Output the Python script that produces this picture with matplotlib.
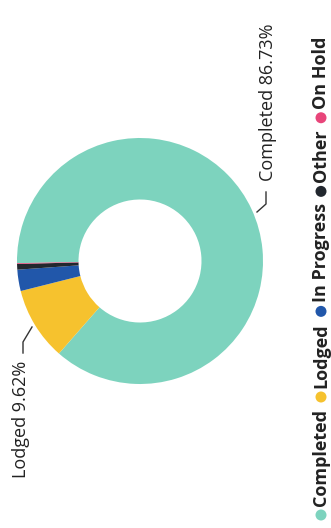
"""Donut chart of job status, drawn rotated like the source screenshot."""

import matplotlib
matplotlib.use("Agg")
import matplotlib.pyplot as plt
from matplotlib.lines import Line2D
from matplotlib.patches import Ellipse

W, H = 331, 528
DPI = 100

statuses = ["Completed", "Lodged", "In Progress", "Other", "On Hold"]
shares = [86.73, 9.62, 2.80, 0.75, 0.10]
colors = ["#7DD3BE", "#F6C22E", "#2157AA", "#22272E", "#E8457A"]

INK = "#222222"
FONT = ["Open Sans", "DejaVu Sans"]


def px(x, y_top):
    """pixel coords (from top-left) -> figure fraction"""
    return x / W, 1 - y_top / H


fig = plt.figure(figsize=(W / DPI, H / DPI), dpi=DPI)
fig.patch.set_facecolor("white")

cx, cy, r = 140, 261, 123
ax = fig.add_axes([(cx - r) / W, (H - cy - r) / H, 2 * r / W, 2 * r / H])
ax.pie(shares, colors=colors, startangle=181, counterclock=False,
       radius=1, wedgeprops=dict(width=0.5, linewidth=0))
ax.set_xlim(-1, 1)
ax.set_ylim(-1, 1)
ax.set_aspect("auto")
ax.axis("off")

# data labels (rotated with the chart)
lab = {s: f"{s} {v:.2f}%" for s, v in zip(statuses, shares)}
fig.text(*px(268, 102), lab["Completed"], rotation=90, ha="center", va="center",
         fontsize=13, color=INK, family=FONT)
fig.text(*px(21, 419), lab["Lodged"], rotation=90, ha="center", va="center",
         fontsize=13, color=INK, family=FONT)

# leader lines
for pts in ([(257, 212), (266, 204), (266, 192)],
            [(32, 327), (23, 342), (23, 353)]):
    xs, ys = zip(*[px(*p) for p in pts])
    fig.add_artist(Line2D(xs, ys, transform=fig.transFigure, color="#333333", lw=1))

# legend, rotated, reading bottom to top
fig.canvas.draw()
renderer = fig.canvas.get_renderer()
y = 515
lx = 321
for name, col in zip(statuses, colors):
    fig.add_artist(Ellipse(px(lx, y), 11 / W, 11 / H, transform=fig.transFigure,
                           facecolor=col, edgecolor="none"))
    t = fig.text(*px(lx, y - 9), name, rotation=90, ha="center", va="bottom",
                 fontsize=13, fontweight="bold", color=INK, family=FONT)
    bb = t.get_window_extent(renderer)
    y = y - 9 - bb.height - 12

fig.savefig("out.png", dpi=DPI)
